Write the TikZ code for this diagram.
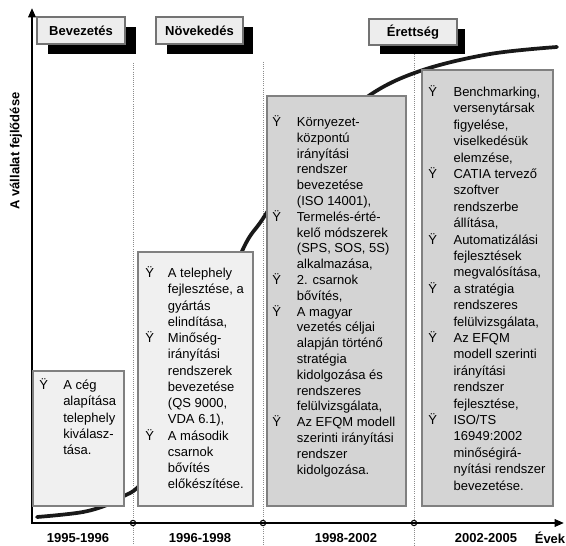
\documentclass[tikz,border=0pt]{standalone}
\usepackage{fontspec}
\setmainfont{Liberation Sans}
\usetikzlibrary{arrows.meta}
\newcommand{\bul}{Ÿ}
\begin{document}
\begin{tikzpicture}[x=0.75pt,y=-0.75pt,
  stagebox/.style={draw=black!50,line width=0.8pt},
  lightbox/.style={stagebox,fill=black!6},
  darkbox/.style={stagebox,fill=black!17},
  phasebox/.style={draw=black!55,line width=0.8pt,fill=black!7},
  phase/.style={font=\fontsize{9.75}{12}\selectfont\bfseries},
  items/.style={anchor=base west,inner sep=0pt,align=left,font=\fontsize{9.75}{12.2}\selectfont},
  divider/.style={black!45,densely dotted,line width=0.6pt},
  axis/.style={line width=1.6pt,{Triangle[length=7pt,width=5.5pt]}-{Triangle[length=7pt,width=5.5pt]}},
]
\useasboundingbox (0,0) rectangle (566,545);
\draw[divider] (133,63) -- (133,545);
\draw[divider] (263,62) -- (263,545);
\draw[divider] (414,54) -- (414,545);
\draw[line width=2.8pt,black!90,line cap=round] plot[smooth,tension=0.6] coordinates {
  (37,517) (83,512) (112,503) (124,496) (138,487) (165,455) (195,380)
  (222,300) (245,245) (262,220) (290,178) (330,130) (373,93) (423,70)
  (490,54) (557,47)};
\foreach \x in {133,263,414}
  \draw[line width=0.8pt,fill=white] (\x,523) circle[radius=2pt];
\draw[axis] (32,8) -- (32,523) -- (564,523);
\node[phase,rotate=90] (ylab) at (16,151) {A vállalat fejlődése};
\node[phase] (y1) at (78,538) {1995-1996};
\node[phase] (y2) at (200,538) {1996-1998};
\node[phase] (y3) at (346,538) {1998-2002};
\node[phase] (y4) at (486,538) {2002-2005};
\node[phase] (xlab) at (550,538) {Évek};
\fill (48,27) rectangle (136,54);
\draw[phasebox] (37,17) rectangle (125,44);
\node[phase] (p1) at (81,30.5) {Bevezetés};
\fill (167,27) rectangle (253,54);
\draw[phasebox] (156,17) rectangle (243,44);
\node[phase] (p2) at (199.5,30.5) {Növekedés};
\fill (380,29) rectangle (465,54);
\draw[phasebox] (369,19) rectangle (457,45);
\node[phase] (p3) at (413,32) {Érettség};
\draw[lightbox] (33,371) rectangle (124,506);
\node[items] (t1) at (39,389.5) {\begin{tabular}[t]{@{}p{18pt}@{}l@{}}
\bul & A cég\\ & alapítása\\ & telephely\\ & kiválasz-\\ & tása.
\end{tabular}};
\draw[lightbox] (138,252) rectangle (253,506);
\node[items] (t2) at (145,277.5) {\begin{tabular}[t]{@{}p{17pt}@{}l@{}}
\bul & A telephely\\ & fejlesztése, a\\ & gyártás\\ & elindítása,\\
\bul & Minőség-\\ & irányítási\\ & rendszerek\\ & bevezetése\\ & (QS 9000,\\ & VDA 6.1),\\
\bul & A második\\ & csarnok\\ & bővítés\\ & előkészítése.
\end{tabular}};
\draw[darkbox] (267,96) rectangle (406,506);
\node[items,font=\fontsize{9.75}{11.85}\selectfont] (t3) at (272,126.5) {\begin{tabular}[t]{@{}p{18.5pt}@{}l@{}}
\bul & Környezet-\\ & központú\\ & irányítási\\ & rendszer\\ & bevezetése\\ & (ISO 14001),\\
\bul & Termelés-érté-\\ & kelő módszerek\\ & (SPS, SOS, 5S)\\ & alkalmazása,\\
\bul & 2. csarnok\\ & bővítés,\\
\bul & A magyar\\ & vezetés céljai\\ & alapján történő\\ & stratégia\\ & kidolgozása és\\ & rendszeres\\ & felülvizsgálata,\\
\bul & Az EFQM modell\\ & szerinti irányítási\\ & rendszer\\ & kidolgozása.
\end{tabular}};
\draw[darkbox] (422,70) rectangle (553,506);
\node[items,font=\fontsize{9.75}{12.3}\selectfont] (t4) at (428,96.5) {\begin{tabular}[t]{@{}p{19pt}@{}l@{}}
\bul & Benchmarking,\\ & versenytársak\\ & figyelése,\\ & viselkedésük\\ & elemzése,\\
\bul & CATIA tervező\\ & szoftver\\ & rendszerbe\\ & állítása,\\
\bul & Automatizálási\\ & fejlesztések\\ & megvalósítása,\\
\bul & a stratégia\\ & rendszeres\\ & felülvizsgálata,\\
\bul & Az EFQM\\ & modell szerinti\\ & irányítási\\ & rendszer\\ & fejlesztése,\\
\bul & ISO/TS\\ & 16949:2002\\ & minőségirá-\\ & nyítási rendszer\\ & bevezetése.
\end{tabular}};
\end{tikzpicture}
\end{document}
